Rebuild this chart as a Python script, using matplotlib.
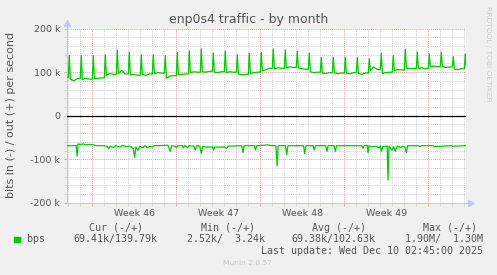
#!/usr/bin/env python3
"""Munin style 'enp0s4 traffic - by month' graph, redrawn with matplotlib."""

import matplotlib
matplotlib.use("Agg")
import matplotlib.pyplot as plt
from matplotlib.patches import Rectangle

# ---------------------------------------------------------------------------
# Data (x = days since Monday of week 46, y = kbit/s)
# ---------------------------------------------------------------------------

X_MIN, X_MAX = -2.11, 31.14

day_index = list(range(-2, 32))

# daily backup-ish spike on the out (+) side, shortly after midnight
out_spike = [138, 138, 138, 140, 151, 146, 140, 140,
             138, 145, 149, 154, 144, 149, 140, 144, 145,
             154, 151, 148, 144, 134, 134, 134, 134,
             131, 144, 138, 153, 146, 142, 146, 136, 142]
# out level early / mid / late in each day
out_a = [84, 83, 85, 93, 97, 94, 95, 97, 86, 94, 99, 101, 100, 99, 96, 97, 103,
         108, 110, 110, 101, 98, 99, 98, 97, 104, 97, 104, 110, 109, 112, 113, 107, 107]
out_b = [80, 86, 86, 97, 104, 95, 93, 99, 91, 95, 101, 100, 99, 101, 94, 99, 106,
         110, 112, 108, 99, 97, 97, 96, 95, 112, 99, 106, 108, 110, 114, 111, 106, 107]
out_c = [85, 84, 87, 95, 96, 93, 96, 98, 92, 96, 100, 102, 101, 100, 95, 100, 109,
         109, 111, 107, 100, 99, 98, 99, 98, 106, 100, 105, 109, 108, 113, 112, 108, 107]
out_start = 88

# in (-) side: flat around -69k with occasional dips
in_days = [-2.11, -1.35, -1.27, -1.19, -1.0, -0.75, -0.55, -0.3, 0.1, 0.3,
           1.0, 1.2, 1.35, 1.48, 1.75, 1.95, 2.3, 2.55, 2.85, 3.15, 3.4, 3.53, 3.63,
           3.8, 3.95, 4.2, 4.4, 4.6, 4.8, 5.0, 5.15,
           6.3, 6.5, 6.6, 6.9, 7.0, 7.1, 7.5, 7.6, 7.7, 7.95, 8.05, 8.45, 8.58, 8.7,
           8.95, 9.08, 9.2, 9.5, 10.0, 10.1, 10.2, 11.0, 11.2, 11.3, 12.45, 12.56,
           12.65, 13.5, 13.6, 13.7, 14.3, 14.6, 14.9,
           15.3, 15.4, 15.48, 16.1, 16.2, 16.3, 17.6, 17.7, 17.8, 18.4, 18.5, 18.6,
           19.45, 19.56, 19.65, 20.15, 20.25, 20.35, 22.45, 22.56, 22.65,
           22.9, 22.98, 23.05, 23.3, 23.6, 23.9, 24.0, 24.1, 24.2, 24.5, 24.57, 24.64,
           24.72, 24.97, 25.1, 25.25, 25.4, 25.7, 25.9, 26.05, 26.17, 26.28, 27.2,
           27.3, 27.4, 28.4, 28.5, 29.9, 30.0, 31.14]
in_vals = [-69, -69, -93, -65, -66, -65, -67, -66, -67, -69,
           -69, -70, -76, -70, -73, -69, -72, -68, -71, -70, -75, -96, -72,
           -80, -70, -74, -69, -74, -70, -72, -69,
           -68, -82, -69, -70, -74, -69, -69, -74, -68, -74, -69, -70, -79, -69,
           -70, -87, -71, -72, -72, -79, -72, -72, -75, -70, -69, -85,
           -69, -69, -79, -69, -68, -67, -69,
           -69, -115, -69, -69, -90, -69, -69, -87, -69, -69, -79, -69,
           -69, -82, -69, -69, -82, -69, -69, -75, -69,
           -68, -85, -69, -72, -70, -74, -69, -82, -71, -70, -70, -148,
           -70, -79, -71, -82, -70, -73, -70, -72, -85, -69, -69,
           -71, -69, -69, -71, -69, -70, -69]

week_starts = [0, 7, 14, 21, 28]
week_centers = [3.5, 10.5, 17.5, 24.5]
week_labels = ["Week 46", "Week 47", "Week 48", "Week 49"]

y_ticks = [200, 100, 0, -100, -200]
y_tick_labels = ["200 k", "100 k", "0", "-100 k", "-200 k"]

legend_heads = ["Cur (-/+)", "Min (-/+)", "Avg (-/+)", "Max (-/+)"]
legend_vals = ["69.41k/139.79k", "2.52k/  3.24k", "69.38k/102.63k", "1.90M/  1.30M"]

# ---------------------------------------------------------------------------
# Style
# ---------------------------------------------------------------------------

W, H = 497, 275
BG = "#f0f0f0"
GREEN = "#00cc00"
TXT = "#555555"
MINOR = "#d4d4d4"
MAJOR = "#f0a0a0"
AXIS = "#c4c8ec"


def fx(px):
    return px / W


def fy(py):
    return 1 - py / H


fig = plt.figure(figsize=(W / 100, H / 100), dpi=100, facecolor=BG)
ax = fig.add_axes([fx(67), fy(202.7), fx(399), 174 / H])
ax.set_facecolor("white")
ax.set_xlim(X_MIN, X_MAX)
ax.set_ylim(-200, 200)

# grid
dots = (0, (1, 1))
for d in range(-2, 32):
    if d % 7:
        ax.axvline(d, color=MINOR, lw=0.7, ls=dots, zorder=1)
for v in range(-180, 200, 20):
    if v % 100:
        ax.axhline(v, color=MINOR, lw=0.7, ls=dots, zorder=1)
for w in week_starts:
    ax.axvline(w, color=MAJOR, lw=0.7, ls=dots, zorder=1)
for v in (200, 100, -100):
    ax.axhline(v, color=MAJOR, lw=0.7, ls=dots, zorder=1)
ax.axhline(0, color="black", lw=0.9, zorder=3)

# out (+) series built from per-day levels
ox, oy = [X_MIN], [out_start]
prev = out_start
for k, s, a, b, c in zip(day_index, out_spike, out_a, out_b, out_c):
    ox += [k, k + 0.08, k + 0.17, k + 0.45, k + 0.75]
    oy += [prev, s, a, b, c]
    prev = c
ax.plot(ox, oy, color=GREEN, lw=0.9, zorder=4)
ax.plot(in_days, in_vals, color=GREEN, lw=0.9, zorder=4)

# axes / ticks
for side in ("top", "right"):
    ax.spines[side].set_visible(False)
for side in ("left", "bottom"):
    ax.spines[side].set_color(AXIS)
    ax.spines[side].set_linewidth(0.8)
ax.plot([0, 0], [1, 1.03], color=AXIS, lw=0.8, transform=ax.transAxes, clip_on=False)
ax.plot(0, 1.035, marker="^", ms=4, color=AXIS, transform=ax.transAxes, clip_on=False)
ax.plot([1, 1.01], [0, 0], color=AXIS, lw=0.8, transform=ax.transAxes, clip_on=False)
ax.plot(1.012, 0, marker=">", ms=4, color=AXIS, transform=ax.transAxes, clip_on=False)

ax.set_yticks(y_ticks, y_tick_labels)
ax.set_yticks(range(-180, 200, 20), minor=True)
ax.set_xticks(week_starts, [""] * len(week_starts))
ax.set_xticks(range(-2, 32), minor=True)
ax.tick_params(which="major", length=2, width=0.7, color=MAJOR, labelsize=6.8,
               labelcolor=TXT, pad=3)
ax.tick_params(which="minor", length=2, width=0.7, color=MINOR)
for c, lab in zip(week_centers, week_labels):
    ax.text(c, -0.035, lab, transform=ax.get_xaxis_transform(), ha="center",
            va="top", fontsize=6.8, color=TXT)

# texts around the plot
fig.text(fx(248.3), fy(23.3), "enp0s4 traffic - by month", ha="center",
         va="baseline", fontsize=9, color=TXT)
fig.text(fx(11), fy(115), "bits in (-) / out (+) per second", rotation=90,
         ha="center", va="center", fontsize=8, color=TXT)
fig.text(fx(488), fy(53.5), "RRDTOOL / TOBI OETIKER", rotation=270, ha="center",
         va="center", fontsize=5.4, color="#cccccc")

# legend block (monospace like rrdtool)
mono = dict(family="DejaVu Sans Mono", fontsize=7.2, color=TXT, va="center")
for x, t in zip((89, 200.7, 312.3, 423), legend_heads):
    fig.text(fx(x), fy(227.7), t, ha="left", **mono)
for x, t in zip((157.7, 265.3, 375, 482.7), legend_vals):
    fig.text(fx(x), fy(239.3), t, ha="right", **mono)
fig.text(fx(27), fy(239.3), "bps", ha="left", **mono)
fig.patches.append(Rectangle((fx(14), fy(242)), fx(5.5), 5.5 / H,
                             transform=fig.transFigure, color=GREEN))
fig.text(fx(482.7), fy(251), "Last update: Wed Dec 10 02:45:00 2025", ha="right", **mono)
fig.text(fx(247.8), fy(263.3), "Munin 2.0.57", ha="center", va="center",
         fontsize=5.4, color="#c8c8c8")

fig.savefig("out.png", dpi=100, facecolor=BG)
